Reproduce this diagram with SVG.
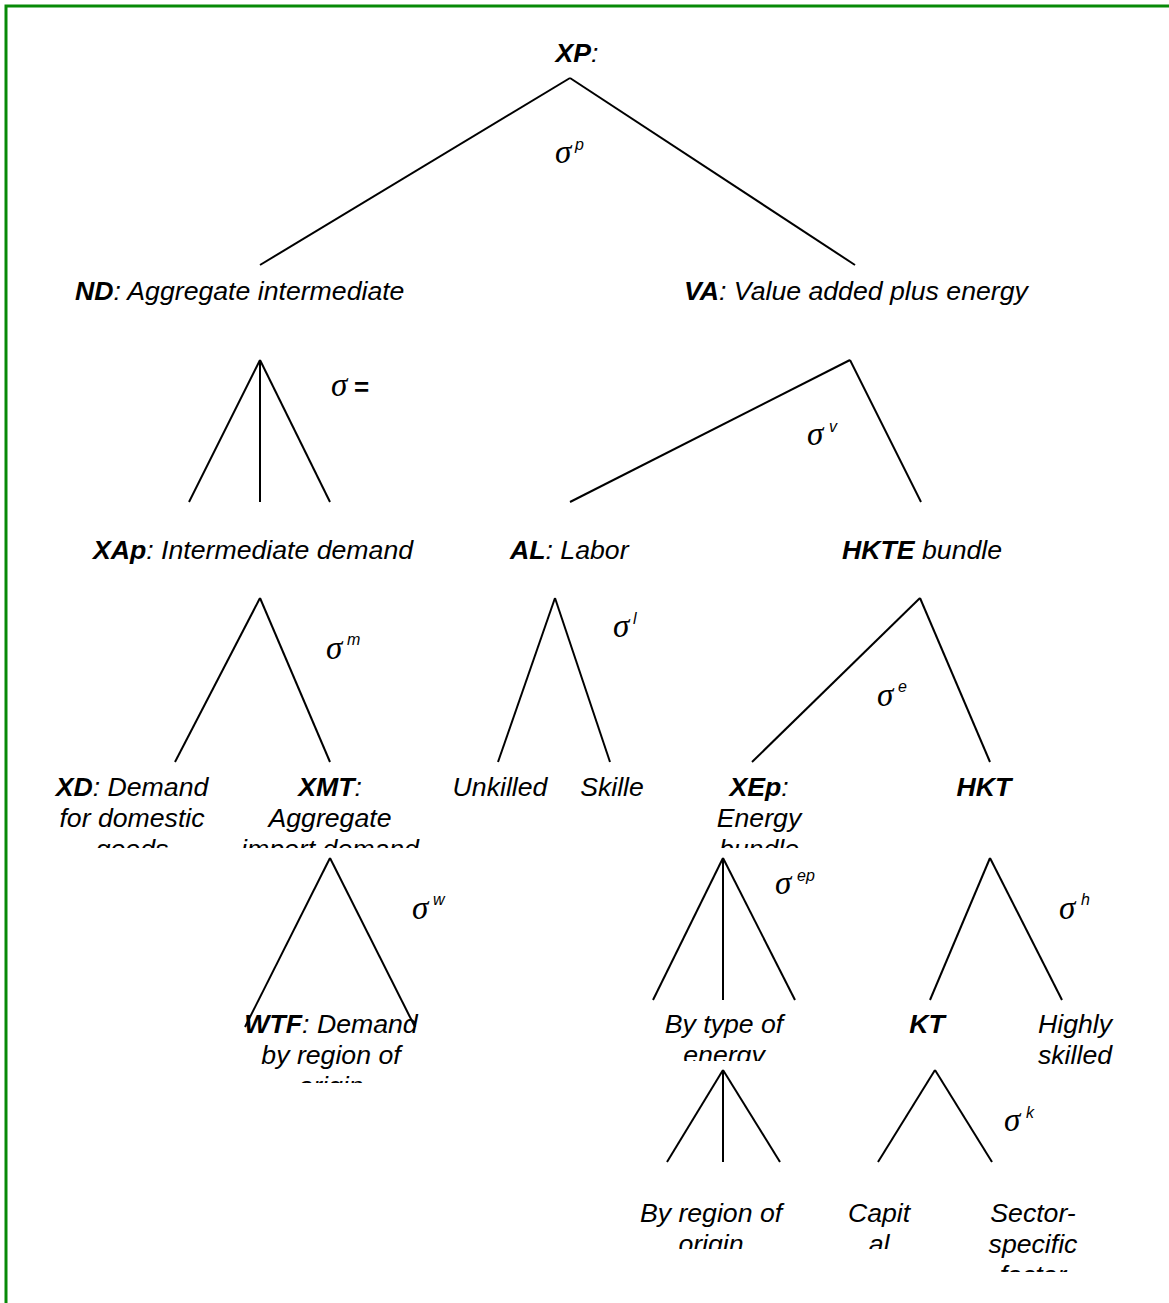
<svg xmlns="http://www.w3.org/2000/svg" width="1169" height="1303" viewBox="0 0 1169 1303">
<style>
.t{font-family:"Liberation Sans",Arial,sans-serif;font-style:italic;font-size:26.67px;fill:#000}
.c{text-anchor:middle}
.b{font-weight:bold}
.s{font-family:"Liberation Serif","Times New Roman",serif;font-style:italic;font-size:33px;fill:#000}
.u{font-family:"Liberation Sans",Arial,sans-serif;font-style:italic;font-size:16px;fill:#000}
.e{font-family:"Liberation Sans",Arial,sans-serif;font-weight:bold;font-size:26px;fill:#000}
#connectors line{stroke:#000;stroke-width:2;fill:none}
</style>
<defs>
<clipPath id="c4"><rect x="0" y="760" width="1169" height="88"/></clipPath>
<clipPath id="c5a"><rect x="0" y="1000" width="1169" height="83"/></clipPath>
<clipPath id="c5b"><rect x="0" y="1000" width="1169" height="61"/></clipPath>
<clipPath id="c6a"><rect x="0" y="1190" width="1169" height="59"/></clipPath>
<clipPath id="c6b"><rect x="0" y="1190" width="1169" height="82"/></clipPath>
</defs>
<rect x="0" y="0" width="1169" height="1303" fill="#fff"/>
<rect x="6" y="6" width="1300" height="1400" fill="none" stroke="#088a08" stroke-width="3"/>

<g id="connectors">
<line x1="570" y1="78" x2="260" y2="265"/>
<line x1="570" y1="78" x2="855" y2="265"/>
<line x1="260" y1="360" x2="189" y2="502"/>
<line x1="260" y1="360" x2="260" y2="502"/>
<line x1="260" y1="360" x2="330" y2="502"/>
<line x1="850" y1="360" x2="570" y2="502"/>
<line x1="850" y1="360" x2="921" y2="502"/>
<line x1="260" y1="598" x2="175" y2="762"/>
<line x1="260" y1="598" x2="330" y2="762"/>
<line x1="555" y1="598" x2="498" y2="762"/>
<line x1="555" y1="598" x2="610" y2="762"/>
<line x1="920" y1="598" x2="752" y2="762"/>
<line x1="920" y1="598" x2="990" y2="762"/>
<line x1="330" y1="858" x2="245" y2="1027"/>
<line x1="330" y1="858" x2="415" y2="1027"/>
<line x1="723" y1="858" x2="653" y2="1000"/>
<line x1="723" y1="858" x2="723" y2="1000"/>
<line x1="723" y1="858" x2="795" y2="1000"/>
<line x1="990" y1="858" x2="930" y2="1000"/>
<line x1="990" y1="858" x2="1062" y2="1000"/>
<line x1="723" y1="1070" x2="667" y2="1162"/>
<line x1="723" y1="1070" x2="723" y2="1162"/>
<line x1="723" y1="1070" x2="780" y2="1162"/>
<line x1="935" y1="1070" x2="878" y2="1162"/>
<line x1="935" y1="1070" x2="992" y2="1162"/>
</g>

<g id="sigmas">
<text class="s" x="555" y="163">σ</text><text class="u" x="575" y="150">p</text>
<text class="s" x="331" y="396">σ</text><text class="e" x="354" y="396">=</text>
<text class="s" x="807" y="445">σ</text><text class="u" x="829" y="432">v</text>
<text class="s" x="326" y="659">σ</text><text class="u" x="347" y="645">m</text>
<text class="s" x="613" y="637">σ</text><text class="u" x="633" y="624">l</text>
<text class="s" x="877" y="706">σ</text><text class="u" x="898" y="692">e</text>
<text class="s" x="412" y="919">σ</text><text class="u" x="433" y="905">w</text>
<text class="s" x="775" y="894">σ</text><text class="u" x="797" y="881">ep</text>
<text class="s" x="1059" y="919">σ</text><text class="u" x="1081" y="905">h</text>
<text class="s" x="1004" y="1131">σ</text><text class="u" x="1026" y="1118">k</text>
</g>

<g id="n-xp"><text class="t c" x="577" y="62"><tspan class="b">XP</tspan>:</text></g>
<g id="n-nd"><text class="t" x="75" y="300"><tspan class="b">ND</tspan>: Aggregate intermediate</text></g>
<g id="n-va"><text class="t" x="684" y="300"><tspan class="b">VA</tspan>: Value added plus energy</text></g>
<g id="n-xap"><text class="t" x="93" y="559"><tspan class="b">XAp</tspan>: Intermediate demand</text></g>
<g id="n-al"><text class="t" x="510" y="559"><tspan class="b">AL</tspan>: Labor</text></g>
<g id="n-hkte"><text class="t" x="842" y="559"><tspan class="b">HKTE</tspan> bundle</text></g>

<g id="n-xd" clip-path="url(#c4)"><text class="t c" y="796"><tspan x="132"><tspan class="b">XD</tspan>: Demand</tspan><tspan x="132" dy="31">for domestic</tspan><tspan x="132" dy="31">goods</tspan></text></g>
<g id="n-xmt" clip-path="url(#c4)"><text class="t c" y="796"><tspan x="330"><tspan class="b">XMT</tspan>:</tspan><tspan x="330" dy="31">Aggregate</tspan><tspan x="330" dy="31">import demand</tspan></text></g>
<g id="n-unskilled"><text class="t c" x="500" y="796">Unkilled</text></g>
<g id="n-skilled"><text class="t c" x="612" y="796">Skille</text></g>
<g id="n-xep" clip-path="url(#c4)"><text class="t c" y="796"><tspan x="759"><tspan class="b">XEp</tspan>:</tspan><tspan x="759" dy="31">Energy</tspan><tspan x="759" dy="31">bundle</tspan></text></g>
<g id="n-hkt"><text class="t c b" x="984" y="796">HKT</text></g>

<g id="n-wtf" clip-path="url(#c5a)"><text class="t c" y="1033"><tspan x="331"><tspan class="b">WTF</tspan>: Demand</tspan><tspan x="331" dy="31">by region of</tspan><tspan x="331" dy="31">origin</tspan></text></g>
<g id="n-bytype" clip-path="url(#c5b)"><text class="t c" y="1033"><tspan x="724">By type of</tspan><tspan x="724" dy="31">energy</tspan></text></g>
<g id="n-kt"><text class="t c b" x="927" y="1033">KT</text></g>
<g id="n-highly"><text class="t c" y="1033"><tspan x="1075">Highly</tspan><tspan x="1075" dy="31">skilled</tspan></text></g>

<g id="n-byregion" clip-path="url(#c6a)"><text class="t c" y="1222"><tspan x="711">By region of</tspan><tspan x="711" dy="31">origin</tspan></text></g>
<g id="n-capital" clip-path="url(#c6a)"><text class="t c" y="1222"><tspan x="879">Capit</tspan><tspan x="879" dy="31">al</tspan></text></g>
<g id="n-sector" clip-path="url(#c6b)"><text class="t c" y="1222"><tspan x="1033">Sector-</tspan><tspan x="1033" dy="31">specific</tspan><tspan x="1033" dy="31">factor</tspan></text></g>
</svg>
